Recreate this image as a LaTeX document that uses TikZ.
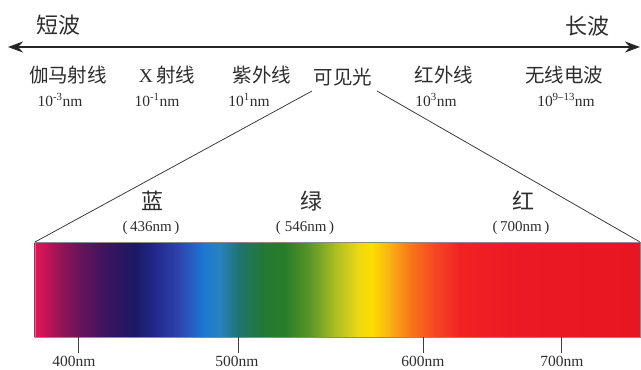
\documentclass[tikz,border=0pt]{standalone}
\usepackage{fontspec}
\setmainfont{Liberation Serif}
\newfontfamily\cjk{Noto Sans CJK SC}
\usetikzlibrary{arrows.meta}
\definecolor{txt}{RGB}{45,45,45}
\definecolor{ln}{RGB}{60,60,60}
\definecolor{c01}{RGB}{225,20,85}
\definecolor{c02}{RGB}{200,20,85}
\definecolor{c03}{RGB}{150,20,85}
\definecolor{c04}{RGB}{105,20,90}
\definecolor{c05}{RGB}{60,20,95}
\definecolor{c06}{RGB}{28,25,100}
\definecolor{c07}{RGB}{35,40,140}
\definecolor{c08}{RGB}{45,70,175}
\definecolor{c09}{RGB}{30,120,210}
\definecolor{c10}{RGB}{40,130,190}
\definecolor{c11}{RGB}{30,115,110}
\definecolor{c12}{RGB}{35,120,55}
\definecolor{c13}{RGB}{40,125,40}
\definecolor{c14}{RGB}{90,150,40}
\definecolor{c15}{RGB}{170,190,35}
\definecolor{c16}{RGB}{235,215,20}
\definecolor{c17}{RGB}{252,222,0}
\definecolor{c18}{RGB}{250,175,20}
\definecolor{c19}{RGB}{248,120,25}
\definecolor{c20}{RGB}{245,70,35}
\definecolor{c21}{RGB}{240,35,35}
\definecolor{c22}{RGB}{235,25,35}
\definecolor{c23}{RGB}{232,22,32}
\begin{document}
\begin{tikzpicture}[x=1pt,y=-1pt,
  big/.style={text=txt,inner sep=0pt,font=\cjk\fontsize{22}{24}\selectfont},
  band/.style={text=txt,inner sep=0pt,font=\cjk\fontsize{19.5}{22}\selectfont},
  num/.style={text=txt,inner sep=0pt,font=\fontsize{15.5}{18}\selectfont},
  paren/.style={text=txt,inner sep=0pt,font=\fontsize{15}{18}\selectfont},
  thin/.style={draw=ln,line width=0.8pt},
  tick/.style={draw=ln,line width=0.9pt}]
\useasboundingbox (0,0) rectangle (641,370);
% main axis
\coordinate (axL) at (8,47);
\coordinate (axR) at (640,47);
\draw[draw=black!85,line width=2pt,{Stealth[length=15pt,width=11pt]}-{Stealth[length=15pt,width=11pt]}] (axL) -- (axR);
\node[big] (short) at (59,25) {短波};
\node[big] (long) at (587,26) {长波};
% bands
\node[band] (gamma) at (68,75) {伽马射线};
\node[num] (gammaN) at (60,100) {10\textsuperscript{-3}nm};
\node[band] (xray) at (167,75) {{\fontspec{Liberation Serif}X}\,射线};
\node[num] (xrayN) at (157,100) {10\textsuperscript{-1}nm};
\node[band] (uv) at (262,75) {紫外线};
\node[num] (uvN) at (249,100) {10\textsuperscript{1}nm};
\node[band] (vis) at (343,77) {可见光};
\node[band] (ir) at (444,75) {红外线};
\node[num] (irN) at (436,100) {10\textsuperscript{3}nm};
\node[band] (radio) at (564,75) {无线电波};
\node[num] (radioN) at (566,100) {10\textsuperscript{9–13}nm};
% spectrum
\coordinate (sTL) at (35,242);
\coordinate (sTR) at (640,242);
\coordinate (sBL) at (35,337);
\coordinate (sBR) at (640,337);
\foreach \xa/\xb/\ca/\cb in {35/45/c01/c02,45/60/c02/c03,60/80/c03/c04,80/105/c04/c05,105/135/c05/c06,135/155/c06/c07,155/180/c07/c08,180/204/c08/c09,204/220/c09/c10,220/240/c10/c11,240/262/c11/c12,262/285/c12/c13,285/310/c13/c14,310/335/c14/c15,335/358/c15/c16,358/372/c16/c17,372/390/c17/c18,390/410/c18/c19,410/435/c19/c20,435/460/c20/c21,460/520/c21/c22,520/640/c22/c23}
  {\shade[left color=\ca,right color=\cb] (\xa-0.4,242) rectangle (\xb+0.4,337);}
\draw[draw=ln!60,line width=0.4pt] (sTL) rectangle (sBR);
% zoom lines
\coordinate (apL) at (312,91);
\coordinate (apR) at (377,91);
\draw[thin] (apL) -- (sTL);
\draw[thin] (apR) -- (sTR);
% colour labels
\node[big] (blue) at (152,201) {蓝};
\node[paren] (blueN) at (151,228) {(\,436nm\,)};
\node[big] (green) at (311,201) {绿};
\node[paren] (greenN) at (305,228) {(\;546nm\,)};
\node[big] (red) at (523,201) {红};
\node[paren] (redN) at (521,228) {(\,700nm\,)};
% ticks
\foreach \tx/\lx/\lab in {78/74/400,238/237/500,423/423/600,561/562/700}{
  \coordinate (t\lab) at (\tx,337);
  \coordinate (tb\lab) at (\tx,353);
  \draw[tick] (t\lab) -- (tb\lab);
  \node[num] (l\lab) at (\lx,361) {\lab nm};
}
\end{tikzpicture}
\end{document}
